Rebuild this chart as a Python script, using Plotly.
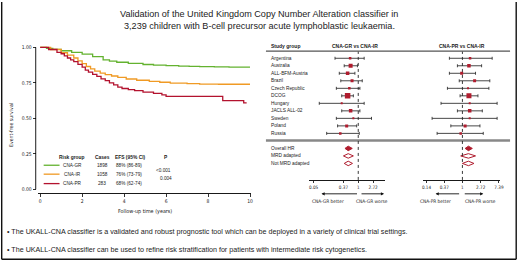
import plotly.graph_objects as go
import math

W, H = 520, 261
def px(x): return x / W
def py(y): return 1 - y / H

# ---------------- Kaplan-Meier data ----------------
gr_t = [0, 0.3, 0.6, 1.0, 1.5, 2.0, 2.5, 3.0, 3.3, 3.65, 4.2, 4.9, 5.4, 6.0, 6.6, 7.1, 7.6, 8.3, 9.0, 10.0]
gr_s = [1.0, 0.993, 0.986, 0.976, 0.965, 0.952, 0.935, 0.912, 0.903, 0.895, 0.887, 0.879, 0.875, 0.871, 0.868, 0.866, 0.864, 0.862, 0.860, 0.860]
ir_t = [0, 0.5, 1.0, 1.3, 1.6, 1.8, 2.0, 2.2, 2.4, 2.6, 2.86, 3.1, 3.4, 3.7, 4.1, 4.6, 5.2, 5.7, 6.2, 7.0, 7.6, 8.5, 10.0]
ir_s = [1.0, 0.985, 0.962, 0.945, 0.925, 0.905, 0.885, 0.865, 0.848, 0.833, 0.818, 0.808, 0.798, 0.789, 0.777, 0.768, 0.760, 0.754, 0.748, 0.744, 0.741, 0.740, 0.740]
pr_t = [0, 0.4, 0.8, 1.0, 1.15, 1.3, 1.45, 1.6, 1.8, 2.0, 2.15, 2.3, 2.5, 2.7, 2.9, 3.1, 3.3, 3.5, 3.7, 3.9, 4.2, 4.5, 4.9, 5.4, 5.8, 6.0, 8.7, 9.7, 9.84]
pr_s = [1.0, 0.985, 0.965, 0.955, 0.94, 0.925, 0.912, 0.90, 0.88, 0.86, 0.84, 0.825, 0.81, 0.795, 0.778, 0.765, 0.75, 0.735, 0.72, 0.71, 0.702, 0.695, 0.685, 0.675, 0.665, 0.655, 0.625, 0.608, 0.608]

km_xticks = [0, 2, 4, 6, 8, 10]
km_yticks = [0, 0.25, 0.5, 0.75, 1.0]
km_yticktext = ["0.00", "0.25", "0.50", "0.75", "1.00"]

risk_groups = ["CNA-GR", "CNA-IR", "CNA-PR"]
risk_cases = ["1898", "1058", "283"]
risk_efs = ["88% (86-89)", "76% (73-79)", "68% (62-74)"]
risk_p = ["<0.001", "0.004"]

# ---------------- Forest data ----------------
studies = ["Argentina", "Australia", "ALL-BFM-Austria", "Brazil", "Czech Republic", "DCOG",
           "Hungary", "JACLS ALL-02", "Sweden", "Poland", "Russia"]
gr_hr = [0.58, 0.60, 0.49, 0.66, 0.55, 0.49, 0.33, 0.60, 0.72, 0.46, 0.30]
gr_lo = [0.21, 0.39, 0.28, 0.31, 0.23, 0.33, 0.073, 0.33, 0.23, 0.25, 0.12]
gr_hi = [1.49, 0.95, 0.80, 1.31, 1.12, 0.72, 1.49, 1.12, 2.44, 0.90, 1.07]
gr_w = [2.5, 4, 3.5, 3, 2.5, 5.5, 2, 3.5, 2, 3, 2.5]

pr_hr = [1.52, 1.43, 0.96, 1.95, 1.36, 1.43, 1.49, 1.49, 1.49, 1.16, 0.91]
pr_lo = [0.49, 0.76, 0.49, 0.84, 0.44, 0.88, 0.31, 0.76, 0.19, 0.53, 0.25]
pr_hi = [5.10, 2.86, 2.05, 4.48, 4.26, 2.34, 6.69, 2.97, 6.69, 2.61, 3.13]
pr_w = [2.5, 3.5, 3, 3, 2, 5, 2, 3.5, 2, 3, 2.5]

summaries = ["Overall HR", "MRD adapted", "Not MRD adapted"]
gr_s_hr = [0.51, 0.51, 0.51]
gr_s_lo = [0.41, 0.37, 0.39]
gr_s_hi = [0.67, 0.72, 0.68]
pr_s_hr = [1.39, 1.39, 1.39]
pr_s_lo = [1.16, 0.91, 1.00]
pr_s_hi = [1.72, 2.05, 1.88]

gr_ticks = [0.05, 0.37, 1, 2.72]
pr_ticks = [0.14, 0.37, 1, 2.72, 7.39]

study_rows = list(range(len(studies)))
summary_rows = [12, 13, 14]

# ---------------- styles ----------------
FONT = "Liberation Sans, Arial, sans-serif"
NARROW = "Liberation Sans Narrow, Arial Narrow, DejaVu Sans Condensed, sans-serif"
C_GR, C_IR, C_PR = "#63b22f", "#f09a24", "#b3122e"
C_MK = "#b01c2e"
km_colors = [C_GR, C_IR, C_PR]

fig = go.Figure()

for t, s, c, n in [(gr_t, gr_s, C_GR, "CNA-GR"), (ir_t, ir_s, C_IR, "CNA-IR"), (pr_t, pr_s, C_PR, "CNA-PR")]:
    fig.add_trace(go.Scatter(x=t, y=s, mode="lines", line=dict(color=c, width=1.3, shape="hv"),
                             name=n, showlegend=False, xaxis="x", yaxis="y"))

def forest(hr, lo, hi, w, s_hr, s_lo, s_hi, xa, ya):
    fig.add_trace(go.Scatter(
        x=hr, y=study_rows, mode="markers", xaxis=xa, yaxis=ya, showlegend=False,
        marker=dict(symbol="square", size=w, color=C_MK, opacity=1, line=dict(width=0)),
        error_x=dict(type="data", symmetric=False,
                     array=[h - m for h, m in zip(hi, hr)],
                     arrayminus=[m - l for m, l in zip(hr, lo)],
                     color="#333333", thickness=0.9, width=1.5)))
    for i, r in enumerate(summary_rows):
        d = 0.3
        fig.add_trace(go.Scatter(
            x=[s_lo[i], s_hr[i], s_hi[i], s_hr[i], s_lo[i]],
            y=[r, r - d, r, r + d, r], mode="lines", xaxis=xa, yaxis=ya, showlegend=False,
            fill="toself", fillcolor=C_MK if i == 0 else "rgba(255,255,255,0)",
            line=dict(color=C_MK, width=1)))

forest(gr_hr, gr_lo, gr_hi, gr_w, gr_s_hr, gr_s_lo, gr_s_hi, "x2", "y2")
forest(pr_hr, pr_lo, pr_hi, pr_w, pr_s_hr, pr_s_lo, pr_s_hi, "x3", "y3")

# ---------------- layout ----------------
fy_dom = [py(179.3), py(50)]
fy_rng = [(179.3 - 56.7) / 7.57, (50 - 56.7) / 7.57]

def logrange(x0, x1, zero_px, per_ln):
    k = per_ln * math.log(10)
    return [(x0 - zero_px) / k, (x1 - zero_px) / k]

axis_common = dict(showgrid=False, zeroline=False, ticks="outside", tickwidth=0.8,
                   tickcolor="black", linecolor="black", linewidth=0.9)

fig.update_layout(
    width=W, height=H, autosize=False,
    margin=dict(l=0, r=0, t=0, b=0),
    paper_bgcolor="white", plot_bgcolor="rgba(0,0,0,0)",
    font=dict(family=FONT, color="#222"),
    hovermode=False,
    xaxis=dict(domain=[px(37), px(252)], range=[-0.118, 10.05], anchor="y",
               tickvals=km_xticks, showline=True, ticklen=3,
               tickfont=dict(size=5, family=NARROW), **axis_common),
    yaxis=dict(domain=[py(192.3), py(44)], range=[-0.0252, 1.0119], anchor="free", position=px(35),
               tickvals=km_yticks, ticktext=km_yticktext, showline=False, ticklen=3,
               tickfont=dict(size=5, family=NARROW), **axis_common),
    xaxis2=dict(domain=[px(310), px(387)], type="log", range=logrange(310, 387, 360, 15), anchor="y2",
                tickvals=gr_ticks, ticktext=[str(v) for v in gr_ticks], showline=True, ticklen=2.5,
                tickfont=dict(size=4.6, family=NARROW), **axis_common),
    yaxis2=dict(domain=fy_dom, range=fy_rng, anchor="x2", visible=False),
    xaxis3=dict(domain=[px(425), px(503.3)], type="log", range=logrange(425, 503.3, 465, 18.4), anchor="y3",
                tickvals=pr_ticks, ticktext=[str(v) for v in pr_ticks], showline=True, ticklen=2.5,
                tickfont=dict(size=4.6, family=NARROW), **axis_common),
    yaxis3=dict(domain=fy_dom, range=fy_rng, anchor="x3", visible=False),
)

shapes = []
# frame
for (x0, y0, x1, y1) in [(0.7, 0, 0.7, 259.3), (519.2, 0, 519.2, 259.3), (0.7, 259.3, 519.2, 259.3)]:
    shapes.append(dict(type="line", xref="paper", yref="paper", x0=px(x0), x1=px(x1), y0=py(y0), y1=py(y1),
                       line=dict(color="#111", width=1.4)))
# KM y-axis line
shapes.append(dict(type="line", xref="paper", yref="y", x0=px(35), x1=px(35), y0=0, y1=1,
                   line=dict(color="black", width=0.9)))
# KM legend keys
for c, yy in zip(km_colors, [164.5, 173.5, 183]):
    shapes.append(dict(type="line", xref="paper", yref="paper", x0=px(43), x1=px(59), y0=py(yy), y1=py(yy),
                       line=dict(color=c, width=1.3)))
# forest header and separator
shapes.append(dict(type="line", xref="paper", yref="paper", x0=px(267), x1=px(513), y0=py(49.5), y1=py(49.5),
                   line=dict(color="#555", width=1.2)))
shapes.append(dict(type="line", xref="paper", yref="paper", x0=px(267), x1=px(513), y0=py(139.5), y1=py(139.5),
                   line=dict(color="#888", width=2.4)))
# null lines
for xr, yr in [("x2", "y2 domain"), ("x3", "y3 domain")]:
    shapes.append(dict(type="line", xref=xr, yref=yr, x0=1, x1=1, y0=0, y1=1,
                       line=dict(color="#222", width=0.9, dash="dot")))
fig.update_layout(shapes=shapes)

ann = []
def A(x, y, text, size, xanchor="center", family=FONT, color="#222", bold=False, **kw):
    if bold:
        text = "<b>" + text + "</b>"
    d = dict(x=px(x), y=py(y), xref="paper", yref="paper", text=text, showarrow=False,
             xanchor=xanchor, yanchor="middle", font=dict(size=size, family=family, color=color))
    d.update(kw)
    ann.append(d)

# title
A(260, 12.5, "Validation of the United Kingdom Copy Number Alteration classifier in", 9.1)
A(260, 23.8, "3,239 children with B-cell precursor acute lymphoblastic leukaemia.", 9.1)

# KM labels
A(10, 124, "Event-free survival", 5.2, family=NARROW, textangle=-90)
A(145, 211, "Follow-up time (years)", 5.4, family=NARROW)

# KM risk table
A(72, 156.7, "Risk group", 4.9, bold=True)
A(102, 156.7, "Cases", 4.9, bold=True)
A(130, 156.7, "EFS (95% CI)", 4.9, bold=True)
A(166, 156.7, "P", 4.9, bold=True)
for g, cs, e, yy in zip(risk_groups, risk_cases, risk_efs, [164.5, 173.5, 183]):
    A(72, yy, g, 4.7)
    A(102, yy, cs, 4.7)
    A(129, yy, e, 4.7)
A(164, 169.3, risk_p[0], 4.7)
A(166, 178.3, risk_p[1], 4.7)

# forest headers
A(270, 44.3, "Study group", 5, xanchor="left", bold=True)
A(357, 44.3, "CNA-GR vs CNA-IR", 5, bold=True)
A(465, 44.3, "CNA-PR vs CNA-IR", 5, bold=True)

# study labels
for name, r in zip(studies + summaries, study_rows + summary_rows):
    ann.append(dict(x=px(270), y=r, xref="paper", yref="y2", text=name, showarrow=False,
                    xanchor="left", yanchor="middle", font=dict(size=4.8, family=FONT, color="#222")))

# arrows
for (x_head, x_tail) in [(323, 360), (386, 362), (438, 463), (486, 466)]:
    ann.append(dict(x=px(x_head), y=py(193.3), xref="paper", yref="paper", ax=x_tail - x_head, ay=0,
                    axref="pixel", ayref="pixel", text="", showarrow=True, arrowhead=2, arrowsize=0.7,
                    arrowwidth=0.9, arrowcolor="#111"))
A(330, 200.7, "CNA-GR better", 4.8, family=NARROW)
A(374, 200.7, "CNA-GR worse", 4.8, family=NARROW)
A(438, 200.7, "CNA-PR better", 4.8, family=NARROW)
A(483, 200.7, "CNA-PR worse", 4.8, family=NARROW)

# bullets
A(4, 231.7, "• The UKALL-CNA classifier is a validated and robust prognostic tool which can be deployed in a variety of clinical trial settings.", 7.15, xanchor="left")
A(4, 250.3, "• The UKALL-CNA classifier can be used to refine risk stratification for patients with intermediate risk cytogenetics.", 7.15, xanchor="left")

fig.update_layout(annotations=ann)
fig.write_html("out.html", config={"displayModeBar": False, "staticPlot": True},
               post_script="document.body.style.margin='0';document.body.style.padding='0';"
                           "document.body.style.overflow='hidden';")
